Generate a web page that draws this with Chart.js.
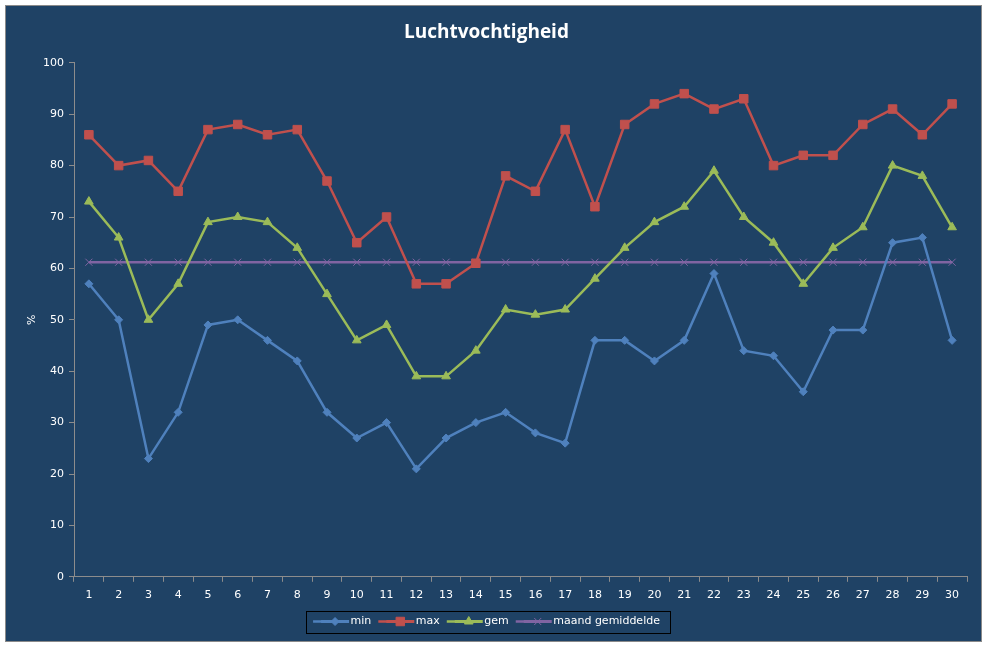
<!DOCTYPE html>
<html>
<head>
<meta charset="utf-8">
<script src="https://cdn.jsdelivr.net/npm/chart.js@4/dist/chart.umd.min.js"></script>
<style>
    body { margin: 0; background: #ffffff; }
    #wrap {
        position: absolute; left: 5px; top: 5px;
        width: 975px; height: 635px;
        border: 1px solid #8a8a8a;
        background: #1F4265;
    }
</style>
</head>
<body>
<div id="wrap"><canvas id="humidityChart"></canvas></div>
<script>
        // Chart data
        const days = ['1', '2', '3', '4', '5', '6', '7', '8', '9', '10', '11', '12', '13', '14', '15',
                      '16', '17', '18', '19', '20', '21', '22', '23', '24', '25', '26', '27', '28', '29', '30'];
        const minValues = [57, 50, 23, 32, 49, 50, 46, 42, 32, 27, 30, 21, 27, 30, 32,
                           28, 26, 46, 46, 42, 46, 59, 44, 43, 36, 48, 48, 65, 66, 46];
        const maxValues = [86, 80, 81, 75, 87, 88, 86, 87, 77, 65, 70, 57, 57, 61, 78,
                           75, 87, 72, 88, 92, 94, 91, 93, 80, 82, 82, 88, 91, 86, 92];
        const gemValues = [73, 66, 50, 57, 69, 70, 69, 64, 55, 46, 49, 39, 39, 44, 52,
                           51, 52, 58, 64, 69, 72, 79, 70, 65, 57, 64, 68, 80, 78, 68];
        const maandGemiddelde = [61.2, 61.2, 61.2, 61.2, 61.2, 61.2, 61.2, 61.2, 61.2, 61.2,
                                 61.2, 61.2, 61.2, 61.2, 61.2, 61.2, 61.2, 61.2, 61.2, 61.2,
                                 61.2, 61.2, 61.2, 61.2, 61.2, 61.2, 61.2, 61.2, 61.2, 61.2];
        const yTicks = [0, 10, 20, 30, 40, 50, 60, 70, 80, 90, 100];

        const AXIS_GREY = '#8C8C8C';
        const TEXT_COLOR = '#FFFFFF';
        const LEGEND_LINE = 28;
        const LEGEND_SHIFT = 8;

        function series(label, values, color, style, radius, width) {
            return {
                label: label,
                data: values,
                borderColor: color,
                backgroundColor: color,
                pointBackgroundColor: color,
                pointBorderColor: color,
                pointStyle: style,
                pointRadius: radius,
                pointHoverRadius: radius,
                pointBorderWidth: 1,
                borderWidth: width,
                tension: 0,
                fill: false
            };
        }

        // Excel-style legend: line with marker for each series, black frame round it
        const legendMarkers = {
            id: 'legendMarkers',
            afterDraw(chart) {
                const legend = chart.legend;
                if (!legend || !legend.legendHitBoxes.length) return;
                const ctx = chart.ctx;
                const boxes = legend.legendHitBoxes;
                ctx.save();
                boxes.forEach((hb, i) => {
                    const ds = chart.data.datasets[i];
                    const cy = hb.top + hb.height / 2;
                    const x0 = hb.left + LEGEND_SHIFT;
                    ctx.strokeStyle = ds.borderColor;
                    ctx.lineWidth = 3;
                    ctx.beginPath();
                    ctx.moveTo(x0, cy);
                    ctx.lineTo(x0 + LEGEND_LINE, cy);
                    ctx.stroke();
                    ctx.fillStyle = ds.pointBackgroundColor;
                    ctx.strokeStyle = ds.pointBorderColor;
                    ctx.lineWidth = 1;
                    Chart.helpers.drawPoint(ctx, {
                        pointStyle: ds.pointStyle,
                        radius: ds.pointRadius,
                        rotation: 0,
                        borderWidth: 1
                    }, x0 + LEGEND_LINE / 2, cy);
                });
                const left = boxes[0].left + LEGEND_SHIFT - 15;
                const last = boxes[boxes.length - 1];
                const right = last.left + last.width + 10;
                const top = boxes[0].top - 5;
                const bottom = boxes[0].top + boxes[0].height + 6;
                ctx.strokeStyle = '#000000';
                ctx.lineWidth = 1;
                ctx.strokeRect(Math.round(left) + 0.5, Math.round(top) + 0.5,
                               Math.round(right - left), Math.round(bottom - top));
                ctx.restore();
            }
        };

        const ctx = document.getElementById('humidityChart').getContext('2d');
        const chart = new Chart(ctx, {
            type: 'line',
            data: {
                labels: days,
                datasets: [
                    series('min', minValues, '#4F81BD', 'rectRot', 4, 2.5),
                    series('max', maxValues, '#C0504D', 'rect', 6, 2.5),
                    series('gem', gemValues, '#9BBB59', 'triangle', 5, 2.5),
                    series('maand gemiddelde', maandGemiddelde, '#8064A2', 'crossRot', 5, 2.5)
                ]
            },
            options: {
                responsive: true,
                maintainAspectRatio: false,
                animation: false,
                layout: {
                    padding: { left: 0, right: 14, top: 8, bottom: 4 }
                },
                scales: {
                    x: {
                        offset: true,
                        grid: {
                            offset: true,
                            drawOnChartArea: false,
                            drawTicks: true,
                            tickLength: 5,
                            color: AXIS_GREY
                        },
                        border: { color: AXIS_GREY, width: 1 },
                        ticks: {
                            color: TEXT_COLOR,
                            font: { family: 'DejaVu Sans', size: 11 },
                            padding: 7,
                            maxRotation: 0,
                            autoSkip: false
                        }
                    },
                    y: {
                        min: 0,
                        max: 100,
                        afterFit(scale) { scale.width = 68; },
                        afterBuildTicks(scale) { scale.ticks = yTicks.map(v => ({ value: v })); },
                        title: {
                            display: true,
                            text: '%',
                            color: TEXT_COLOR,
                            font: { family: 'DejaVu Sans', size: 11 },
                            padding: { top: 20, bottom: 0 }
                        },
                        grid: {
                            drawOnChartArea: false,
                            drawTicks: true,
                            tickLength: 5,
                            color: AXIS_GREY
                        },
                        border: { color: AXIS_GREY, width: 1 },
                        ticks: {
                            color: TEXT_COLOR,
                            font: { family: 'DejaVu Sans', size: 11 },
                            padding: 5
                        }
                    }
                },
                plugins: {
                    title: {
                        display: true,
                        text: 'Luchtvochtigheid',
                        color: TEXT_COLOR,
                        font: { family: 'Open Sans', size: 19, weight: 'bold' },
                        padding: { top: 7, bottom: 19 }
                    },
                    legend: {
                        position: 'bottom',
                        labels: {
                            color: TEXT_COLOR,
                            font: { family: 'DejaVu Sans', size: 11 },
                            boxWidth: 32,
                            boxHeight: 0,
                            padding: 7
                        }
                    },
                    tooltip: { enabled: false }
                }
            },
            plugins: [legendMarkers]
        });
</script>
</body>
</html>
